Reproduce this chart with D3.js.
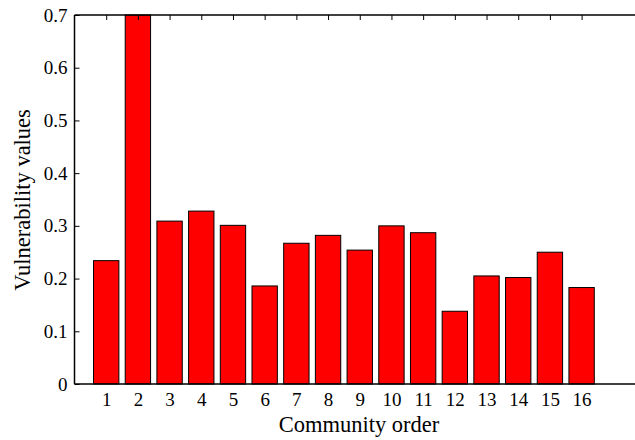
<!DOCTYPE html>
<html>
<head>
<meta charset="utf-8">
<script src="https://cdn.jsdelivr.net/npm/d3@7/dist/d3.min.js"></script>
<style>
  html, body { margin: 0; padding: 0; background: #fff; }
  svg { display: block; }
</style>
</head>
<body>
<svg id="chart" width="635" height="440"></svg>
<script>
// Community vulnerability values
const communities = [1, 2, 3, 4, 5, 6, 7, 8, 9, 10, 11, 12, 13, 14, 15, 16];
const vulnerability = [0.234, 0.70, 0.309, 0.328, 0.301, 0.186, 0.267, 0.282, 0.254, 0.300, 0.287, 0.138, 0.205, 0.202, 0.250, 0.183];
const yTicks = [0, 0.1, 0.2, 0.3, 0.4, 0.5, 0.6, 0.7];

const serif = "'Liberation Serif', 'Times New Roman', Times, 'DejaVu Serif', serif";

const svg = d3.select("#chart");
const plotLeft = 74.5, plotRight = 645, plotTop = 15, plotBottom = 384;

const x = d3.scaleLinear().domain([0, 18]).range([plotLeft, plotRight]);
const y = d3.scaleLinear().domain([0, 0.7]).range([plotBottom, plotTop]);
const barW = (x(1) - x(0)) * 0.8;

// bars
svg.append("g").selectAll("rect")
  .data(communities)
  .join("rect")
  .attr("x", (d) => x(d) - barW / 2)
  .attr("y", (d, i) => y(vulnerability[i]))
  .attr("width", barW)
  .attr("height", (d, i) => y(0) - y(vulnerability[i]))
  .attr("fill", "#ff0000")
  .attr("stroke", "#000")
  .attr("stroke-width", 1);

// bottom axis: labels only, line drawn at zero
const xAxis = d3.axisBottom(x).tickValues(communities).tickSize(0).tickPadding(9).tickFormat(d3.format("d"));
const gx = svg.append("g").attr("transform", `translate(0,${plotBottom})`).call(xAxis);
gx.select(".domain").remove();
gx.selectAll("text").style("font-family", serif).style("font-size", "19px").style("fill", "#000");
svg.append("line").attr("x1", plotLeft).attr("x2", 635).attr("y1", plotBottom).attr("y2", plotBottom)
  .attr("stroke", "#000").attr("stroke-width", 1.5);

// top axis: inward ticks
const xTop = d3.axisTop(x).tickValues(communities).tickSize(-5).tickFormat("");
const gt = svg.append("g").attr("transform", `translate(0,${plotTop})`).call(xTop);
gt.select(".domain").remove();
gt.selectAll("line").attr("stroke", "#000").attr("stroke-width", 1);
svg.append("line").attr("x1", plotLeft).attr("x2", 635).attr("y1", plotTop).attr("y2", plotTop)
  .attr("stroke", "#000").attr("stroke-width", 1.5);

// left axis
const yAxis = d3.axisLeft(y).tickValues(yTicks).tickSize(-5).tickPadding(7)
  .tickFormat((d) => d === 0 ? "0" : d3.format(".1f")(d));
const gy = svg.append("g").attr("transform", `translate(${plotLeft},0)`).call(yAxis);
gy.select(".domain").remove();
gy.selectAll("text").style("font-family", serif).style("font-size", "19px").style("fill", "#000");
gy.selectAll("line").attr("stroke", "#000");
svg.append("line").attr("x1", plotLeft).attr("x2", plotLeft).attr("y1", plotTop).attr("y2", plotBottom)
  .attr("stroke", "#000").attr("stroke-width", 1.5);

// axis titles
svg.append("text")
  .attr("x", 359).attr("y", 432)
  .attr("text-anchor", "middle")
  .style("font-family", serif).style("font-size", "22.5px")
  .text("Community order");

svg.append("text")
  .attr("transform", "translate(29.5,200) rotate(-90)")
  .attr("text-anchor", "middle")
  .style("font-family", serif).style("font-size", "22.5px")
  .text("Vulnerability values");
</script>
</body>
</html>
